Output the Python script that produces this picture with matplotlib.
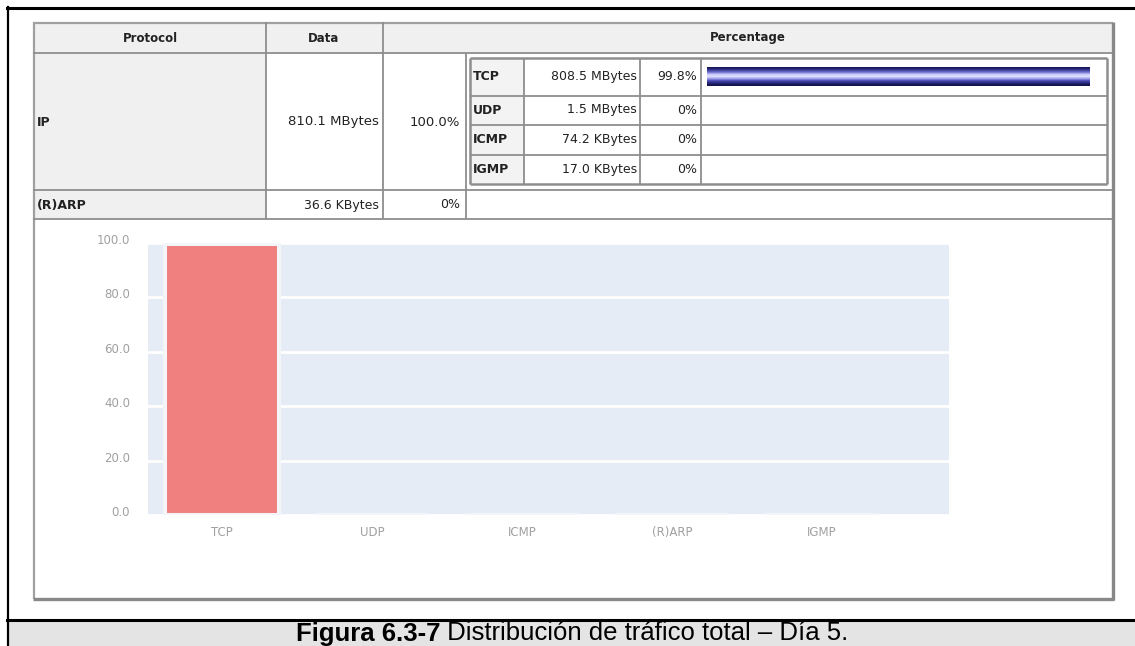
import matplotlib
matplotlib.use('Agg')
import matplotlib.pyplot as plt
import matplotlib.transforms as mtransforms
import numpy as np

# table data
headers = ['Protocol', 'Data', 'Percentage']
ip_name = 'IP'
ip_data = '810.1 MBytes'
ip_pct = '100.0%'
arp_name = '(R)ARP'
arp_data = '36.6 KBytes'
arp_pct = '0%'
sub_names = ['TCP', 'UDP', 'ICMP', 'IGMP']
sub_data = ['808.5 MBytes', '1.5 MBytes', '74.2 KBytes', '17.0 KBytes']
sub_pct = [99.8, 0.0, 0.0, 0.0]
sub_pct_txt = ['99.8%', '0%', '0%', '0%']

# chart data
categories = ['TCP', 'UDP', 'ICMP', '(R)ARP', 'IGMP']
values = [99.8, 0.0, 0.0, 0.0, 0.0]
yticks = [0.0, 20.0, 40.0, 60.0, 80.0, 100.0]

caption_bold = 'Figura 6.3-7'
caption_rest = ' Distribución de tráfico total – Día 5.'

W, H = 1135, 646
fig = plt.figure(figsize=(W / 100, H / 100), dpi=100)
fig.patch.set_facecolor('white')

# pixel overlay for the html table / page frame
ov = fig.add_axes([0, 0, 1, 1])
ov.set_xlim(0, W)
ov.set_ylim(H, 0)
ov.axis('off')

gray = '#8e8e8e'
cellbg = '#f0f0f0'
txt = '#222222'
font = 'DejaVu Sans'


def rect(x0, y0, x1, y1, fc):
    ov.add_patch(plt.Rectangle((x0, y0), x1 - x0, y1 - y0, fc=fc, ec='none', zorder=1))


def hline(y, x0, x1, c=gray, lw=1.3):
    ov.plot([x0, x1], [y, y], color=c, lw=lw, solid_capstyle='butt', zorder=3)


def vline(x, y0, y1, c=gray, lw=1.3):
    ov.plot([x, x], [y0, y1], color=c, lw=lw, solid_capstyle='butt', zorder=3)


def cell_text(x, y, s, ha, bold=False, size=9.5):
    ov.text(x, y, s, ha=ha, va='center', fontsize=size,
            fontweight='bold' if bold else 'normal', family=font, color=txt, zorder=6)


# page frame
ov.plot([7, W], [7.5, 7.5], color='black', lw=2.2, zorder=5)
ov.plot([7.5, 7.5], [7, H], color='black', lw=1.6, zorder=5)
rect(8, 621, W, H, '#e4e4e4')
ov.plot([7, W], [620, 620], color='black', lw=2.2, zorder=5)

# backgrounds
rect(33, 22, 1113, 52.5, cellbg)
rect(33, 52.5, 266, 219, cellbg)

# outer panel with shadow
hline(22.5, 33, 1113, c='#a0a0a0', lw=1.6)
vline(33.5, 22, 599, c='#a0a0a0', lw=1.6)
vline(1113, 22, 600, c='#888888', lw=2.4)
hline(599, 33, 1114, c='#888888', lw=2.4)

# table grid
hline(52.5, 33, 1113)
hline(190, 33, 1113)
hline(219, 33, 1113)
vline(266, 22, 219)
vline(383, 22, 219)
vline(466, 52.5, 219)

# sub-table
sx0, sx1, sy0, sy1 = 470, 1107, 58, 184
row_y = [58, 95.5, 124.5, 154.5, 184]
vline(sx0, sy0, sy1, lw=1.8)
vline(sx1, sy0, sy1, lw=1.8)
hline(sy0, sx0, sx1, lw=1.8)
hline(sy1, sx0, sx1, lw=1.8)
for y in row_y[1:-1]:
    hline(y, sx0, sx1)
for x in [524, 640, 701]:
    vline(x, sy0, sy1)

# header texts
cell_text(150, 38, headers[0], 'center', bold=True, size=8.5)
cell_text(324, 38, headers[1], 'center', bold=True, size=8.5)
cell_text(748, 38, headers[2], 'center', bold=True, size=8.5)

# IP row
cell_text(37, 122, ip_name, 'left', bold=True, size=9)
cell_text(379, 122, ip_data, 'right')
cell_text(460, 122, ip_pct, 'right')

# (R)ARP row
cell_text(37, 205, arp_name, 'left', bold=True, size=9)
cell_text(379, 205, arp_data, 'right', size=9)
cell_text(460, 205, arp_pct, 'right', size=9)

# gradient for the percentage bars
grad = np.array([[0.10, 0.10, 0.36], [0.25, 0.25, 0.62], [0.45, 0.45, 0.82],
                 [0.80, 0.80, 0.98], [0.86, 0.86, 1.00], [0.62, 0.62, 0.92],
                 [0.30, 0.30, 0.70], [0.16, 0.16, 0.50], [0.08, 0.08, 0.30]])
grad = grad.reshape(-1, 1, 3)
bar_x0 = 706.5
bar_full = 383.3

for i, name in enumerate(sub_names):
    yc = (row_y[i] + row_y[i + 1]) / 2
    rect(sx0 + 1, row_y[i] + 1, 524, row_y[i + 1] - 1, '#f3f3f3')
    cell_text(473, yc, name, 'left', bold=True, size=9)
    cell_text(637, yc, sub_data[i], 'right', size=9)
    cell_text(697, yc, sub_pct_txt[i], 'right', size=9)
    if sub_pct[i] > 0:
        x1 = bar_x0 + bar_full * sub_pct[i] / 100
        ov.imshow(grad, extent=(bar_x0, x1, yc + 9.5, yc - 9.5), aspect='auto',
                  interpolation='bilinear', zorder=4)

ov.set_xlim(0, W)
ov.set_ylim(H, 0)

# chart
L, R, T, B = 148, 949, 243, 515
ax = fig.add_axes([L / W, (H - B) / H, (R - L) / W, (B - T) / H])
ax.set_facecolor('#e6ecf5')
x = np.arange(len(categories))
ax.bar(x, values, width=0.765, color='#f08080', edgecolor='#f3f5f9', linewidth=2.9, zorder=3)
ax.set_xlim(-74 / 150, (R - 222) / 150)
ax.set_ylim(0, 100)
ax.set_yticks(yticks)
ax.set_yticklabels(['%.1f' % v for v in yticks])
ax.set_xticks(x)
ax.set_xticklabels(categories)
ax.grid(axis='y', color='white', lw=2.0, zorder=1)
ax.set_axisbelow(True)
for s in ax.spines.values():
    s.set_visible(False)
ax.tick_params(length=0, colors='#a0a0a0', labelsize=8.5)
ax.tick_params(axis='y', pad=13)
ax.tick_params(axis='x', pad=8)
up = mtransforms.ScaledTranslation(0, 0.04, fig.dpi_scale_trans)
for lab in ax.get_yticklabels():
    lab.set_transform(lab.get_transform() + up)

# caption: bold part and normal part side by side, centred
cap_font = ['Liberation Sans Narrow', 'Liberation Sans']
t1 = ov.text(0, 640.5, caption_bold, ha='left', va='baseline', fontsize=18.5,
             fontweight='bold', family=cap_font, color='black', zorder=6)
t2 = ov.text(0, 640.5, caption_rest, ha='left', va='baseline', fontsize=18.5,
             family=cap_font, color='black', zorder=6)
fig.canvas.draw()
r = fig.canvas.get_renderer()
w1 = t1.get_window_extent(r).width
w2 = t2.get_window_extent(r).width
start = 572 - (w1 + w2) / 2
t1.set_x(start)
t2.set_x(start + w1)

fig.savefig('out.png', dpi=100)
